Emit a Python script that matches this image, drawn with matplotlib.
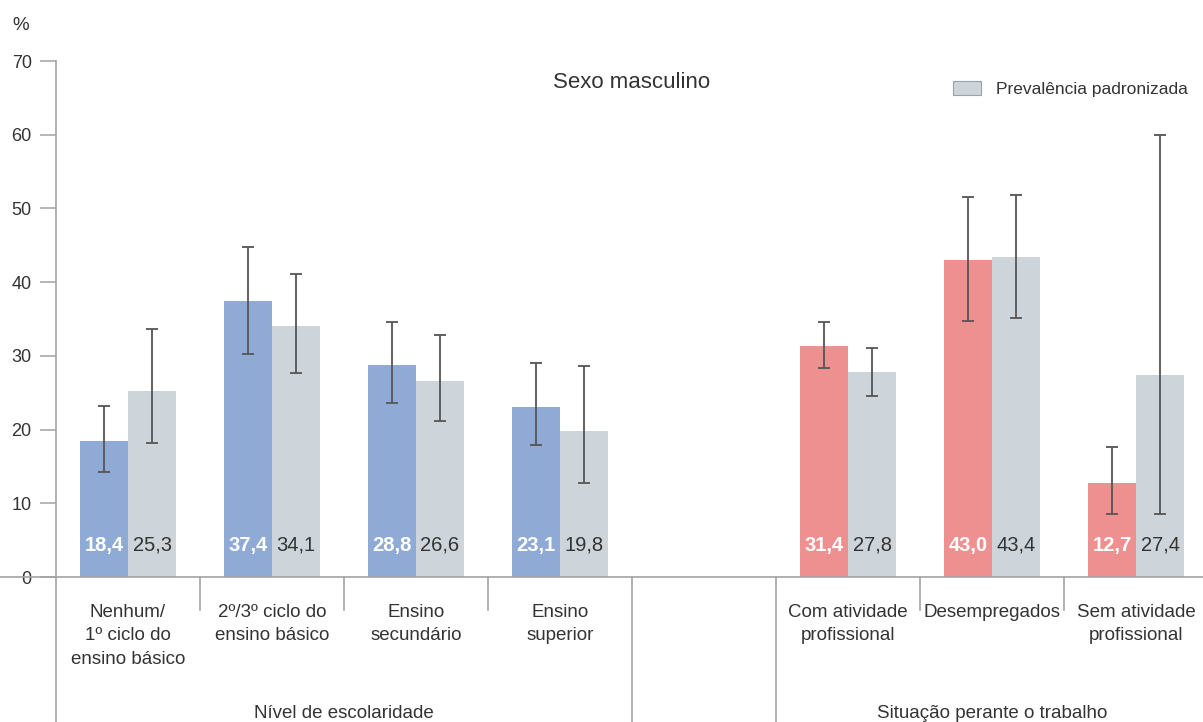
import matplotlib
matplotlib.use("Agg")
import matplotlib.pyplot as plt
from matplotlib.patches import Patch

plt.rcParams["font.family"] = ["Liberation Sans", "DejaVu Sans"]

# ---- data -------------------------------------------------------------
edu_categories = ["Nenhum/\n1º ciclo do\nensino básico",
                  "2º/3º ciclo do\nensino básico",
                  "Ensino\nsecundário",
                  "Ensino\nsuperior"]
work_categories = ["Com atividade\nprofissional",
                   "Desempregados",
                   "Sem atividade\nprofissional"]

edu_values = [18.4, 37.4, 28.8, 23.1]
edu_low = [14.2, 30.3, 23.6, 17.9]
edu_high = [23.2, 44.8, 34.6, 29.0]
edu_std_values = [25.3, 34.1, 26.6, 19.8]
edu_std_low = [18.2, 27.7, 21.2, 12.8]
edu_std_high = [33.7, 41.1, 32.8, 28.6]

work_values = [31.4, 43.0, 12.7]
work_low = [28.3, 34.7, 8.6]
work_high = [34.6, 51.6, 17.6]
work_std_values = [27.8, 43.4, 27.4]
work_std_low = [24.5, 35.1, 8.5]
work_std_high = [31.1, 51.8, 59.9]

y_ticks = [0, 10, 20, 30, 40, 50, 60, 70]
group_labels = ["Nível de escolaridade", "Situação perante o trabalho"]
title = "Sexo masculino"
legend_label = "Prevalência padronizada"

# ---- style ------------------------------------------------------------
BLUE = "#8FAAD4"
RED = "#EF9090"
GREY = "#CDD5DB"
AXIS = "#A3A3A3"
TEXT = "#333333"
ERR = "#555555"

W, H = 1203, 722
fig = plt.figure(figsize=(W / 100, H / 100), dpi=100)
slot_px = 144.0
left_px, base_px, top_px = 56, 577, 61
ax = fig.add_axes([left_px / W, (H - base_px) / H,
                   8 * slot_px / W, (base_px - top_px) / H])
ax.set_xlim(0, 8)
ax.set_ylim(0, 70)

bw = 1 / 3
label_y = 4.3


def fmt(v):
    return f"{v:.1f}".replace(".", ",")


def draw_pair(centers, vals, lows, highs, svals, slows, shighs, color):
    xa = [c - bw / 2 for c in centers]
    xb = [c + bw / 2 for c in centers]
    ax.bar(xa, vals, width=bw, color=color, linewidth=0, zorder=2)
    ax.bar(xb, svals, width=bw, color=GREY, linewidth=0, zorder=2)
    ax.errorbar(xa, vals,
                yerr=[[v - l for v, l in zip(vals, lows)],
                      [h - v for v, h in zip(vals, highs)]],
                fmt="none", ecolor=ERR, elinewidth=1.3, capsize=4,
                capthick=1.3, zorder=3)
    ax.errorbar(xb, svals,
                yerr=[[v - l for v, l in zip(svals, slows)],
                      [h - v for v, h in zip(svals, shighs)]],
                fmt="none", ecolor=ERR, elinewidth=1.3, capsize=4,
                capthick=1.3, zorder=3)
    for x, v in zip(xa, vals):
        ax.text(x, label_y, fmt(v), ha="center", va="center",
                color="white", fontsize=14.5, fontweight="bold", zorder=4)
    for x, v in zip(xb, svals):
        ax.text(x, label_y, fmt(v), ha="center", va="center",
                color=TEXT, fontsize=14.5, zorder=4)


edu_centers = [i + 0.5 for i in range(len(edu_categories))]
work_centers = [5 + i + 0.5 for i in range(len(work_categories))]

draw_pair(edu_centers, edu_values, edu_low, edu_high,
          edu_std_values, edu_std_low, edu_std_high, BLUE)
draw_pair(work_centers, work_values, work_low, work_high,
          work_std_values, work_std_low, work_std_high, RED)

# ---- axes -------------------------------------------------------------
for s in ["top", "right"]:
    ax.spines[s].set_visible(False)
ax.spines["left"].set_color(AXIS)
ax.spines["bottom"].set_color(AXIS)
ax.spines["left"].set_linewidth(1.2)
ax.spines["bottom"].set_linewidth(1.2)
ax.set_yticks(y_ticks)
ax.set_yticklabels([str(t) for t in y_ticks])
ax.tick_params(axis="y", length=11.5, width=1.1, color=AXIS,
               labelcolor=TEXT, labelsize=13, pad=6)
ax.set_xticks([])

xt = ax.get_xaxis_transform()
ax_h = base_px - top_px
short_end = -(610 - base_px) / ax_h
long_end = -(H - base_px + 2) / ax_h
for x in [1, 2, 3, 6, 7]:
    ax.plot([x, x], [0, short_end], transform=xt, color=AXIS, lw=1.2,
            clip_on=False)
for x in [0, 4, 5]:
    ax.plot([x, x], [0, long_end], transform=xt, color=AXIS, lw=1.2,
            clip_on=False)
# extend baseline to the left edge of the figure
ax.plot([-left_px / slot_px, 0], [0, 0], transform=xt, color=AXIS,
        lw=1.2, clip_on=False)

cat_top = -(604 - base_px) / ax_h
for c, lab in zip(edu_centers + work_centers, edu_categories + work_categories):
    ax.text(c, cat_top, lab, transform=xt, ha="center", va="top",
            fontsize=13.5, color=TEXT, linespacing=1.5)

grp_y = -(713 - base_px) / ax_h
ax.text(2, grp_y, group_labels[0], transform=xt, ha="center", va="center",
        fontsize=13.5, color=TEXT)
ax.text(6.5, grp_y, group_labels[1], transform=xt, ha="center",
        va="center", fontsize=13.5, color=TEXT)

ax.text(4, (base_px - 82) / ax_h, title, transform=xt, ha="center",
        va="center", fontsize=16, color=TEXT)

fig.text(21 / W, 1 - 25 / H, "%", ha="center", va="center",
         fontsize=13.5, color=TEXT)

handle = Patch(facecolor=GREY, edgecolor="#9AA3AA", linewidth=0.8)
ax.legend([handle], [legend_label], loc="upper left",
          bbox_to_anchor=(953 / W, 1 - 81 / H),
          bbox_transform=fig.transFigure, frameon=False, fontsize=12.5,
          handlelength=1.6, handleheight=0.85, handletextpad=0.85,
          borderpad=0, borderaxespad=0, labelcolor=TEXT)

fig.savefig("out.png", dpi=100)
